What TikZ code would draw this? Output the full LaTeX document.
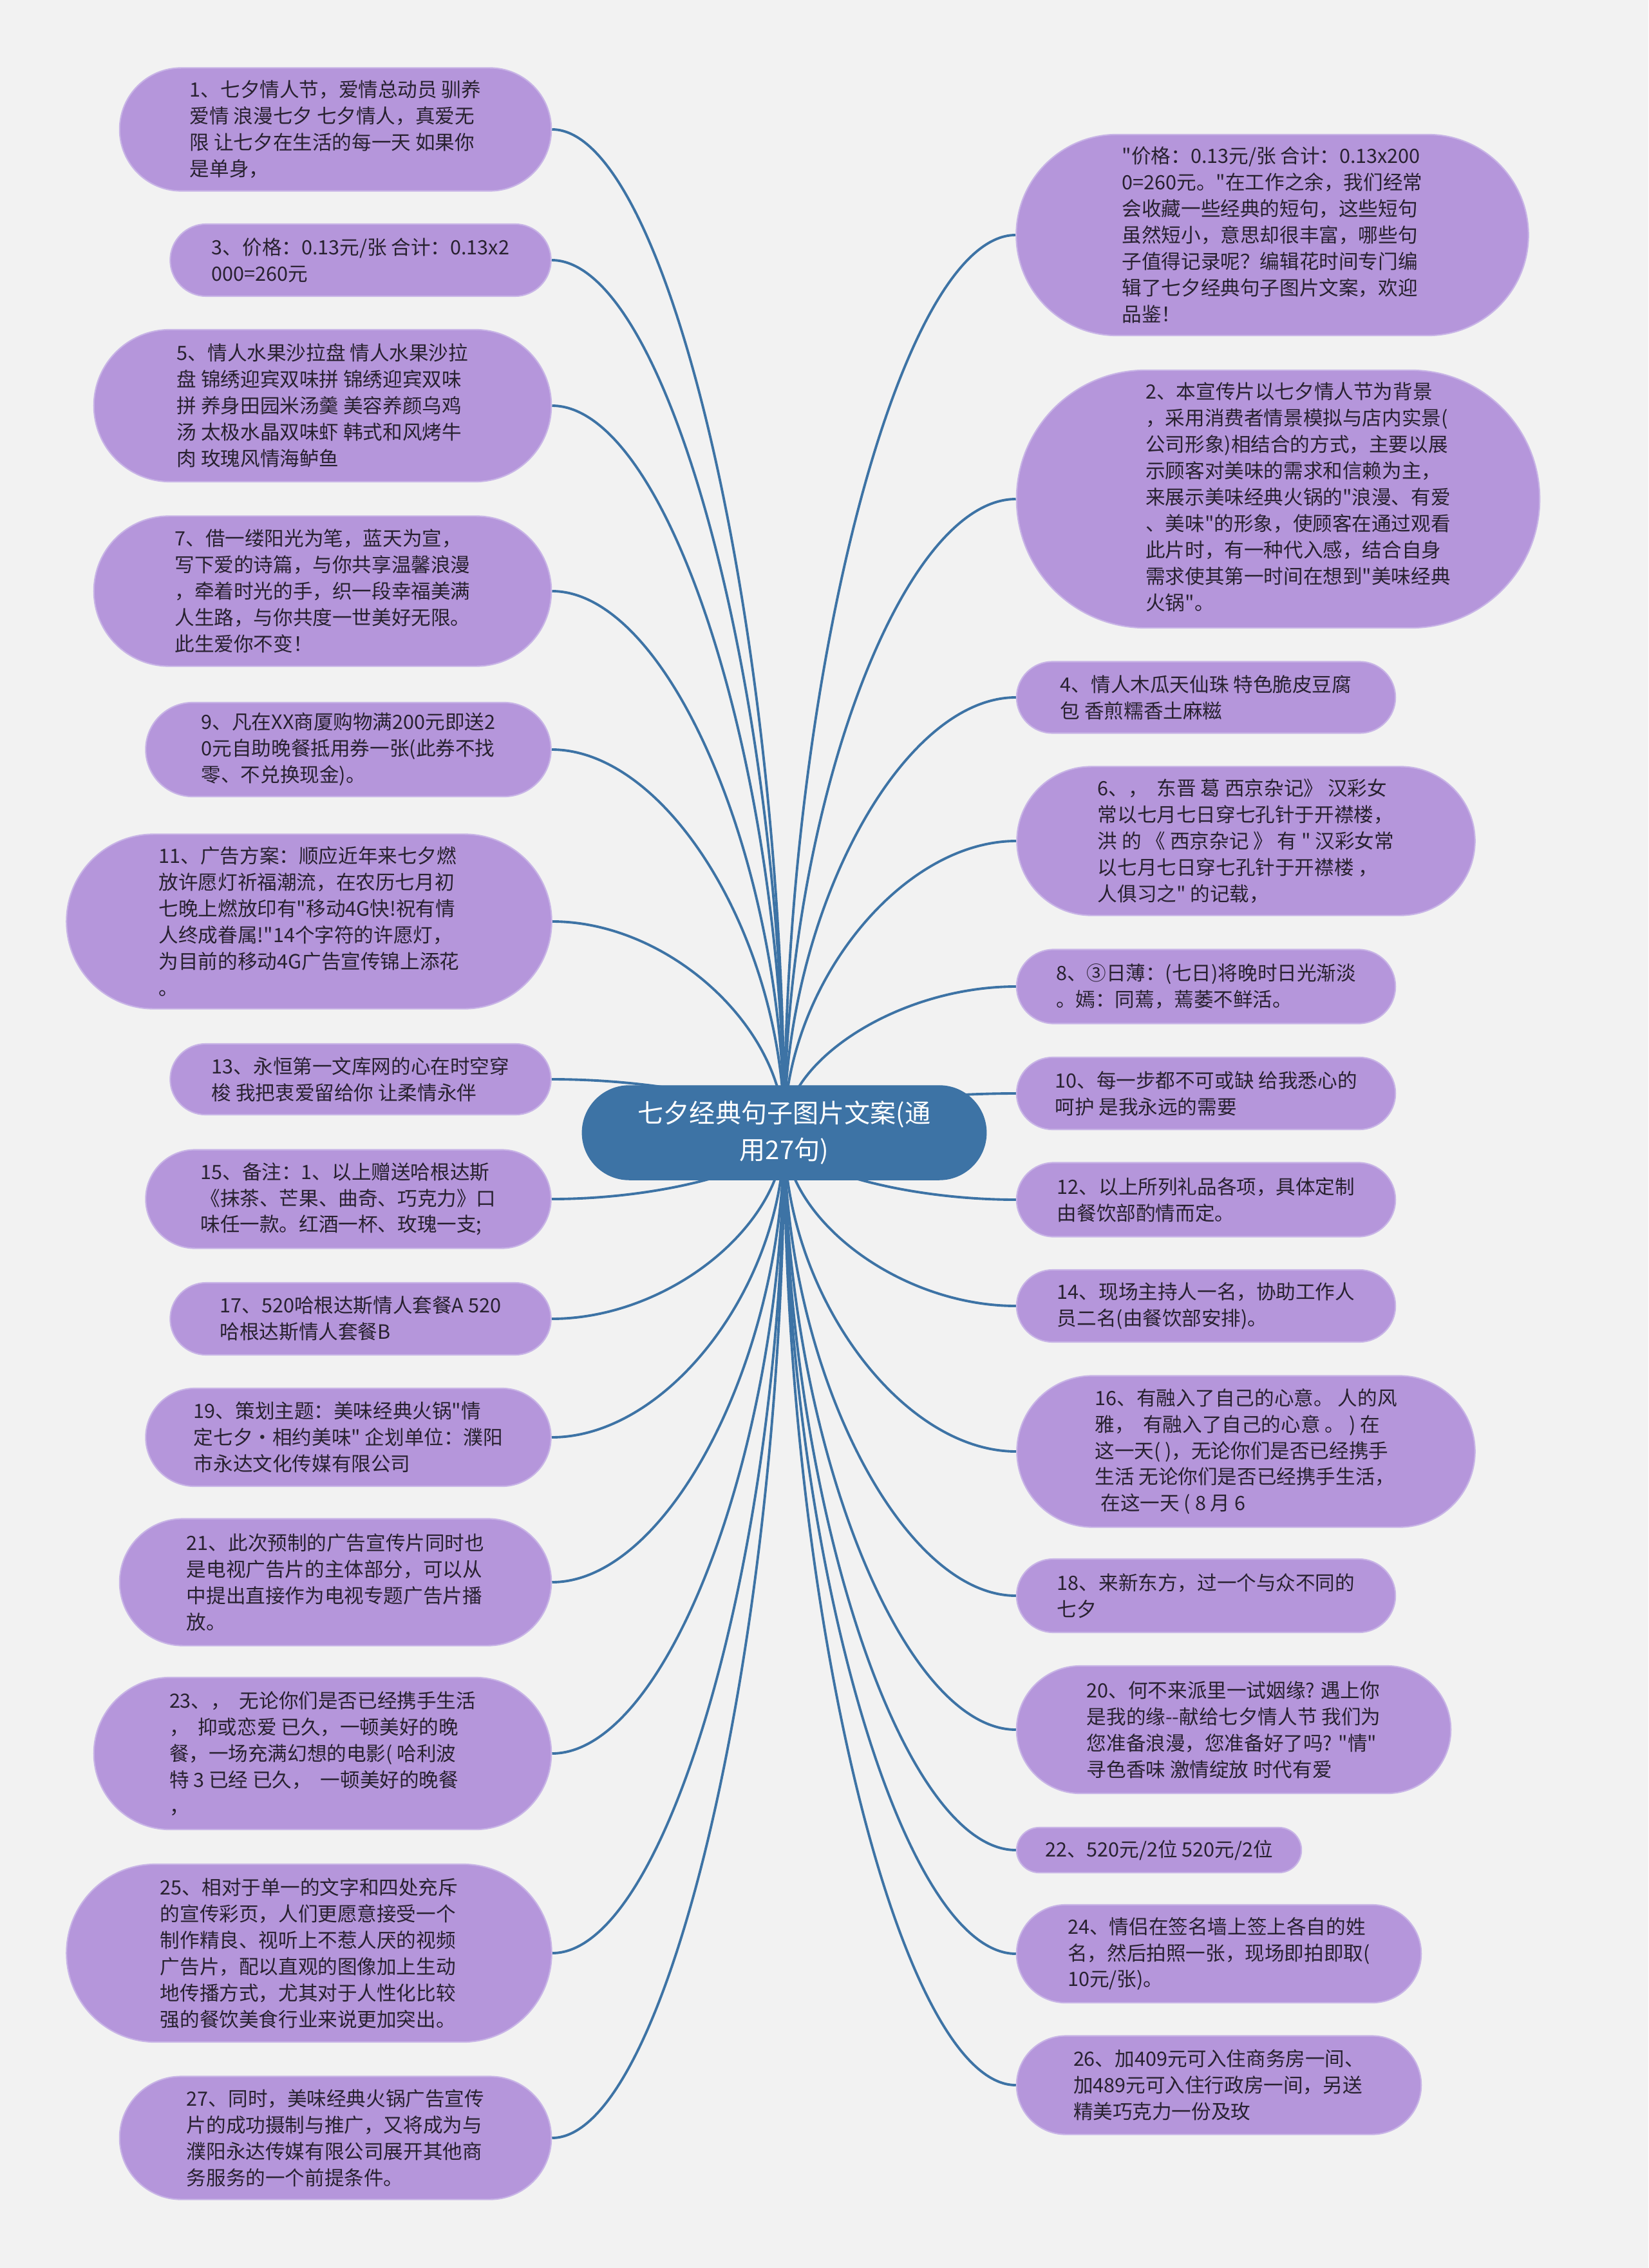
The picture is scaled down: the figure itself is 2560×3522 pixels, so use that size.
\documentclass[tikz,border=0pt]{standalone}
\usepackage{fontspec}
\newfontfamily\cjk{Noto Sans CJK SC}
\usetikzlibrary{calc}
\definecolor{bgc}{RGB}{242,242,242}
\definecolor{leaffill}{RGB}{181,150,219}
\definecolor{leafedge}{RGB}{200,180,230}
\definecolor{rootblue}{RGB}{61,115,165}
\definecolor{linkblue}{RGB}{61,115,165}
\definecolor{txt}{RGB}{40,33,48}
\pgfdeclarelayer{bg}
\pgfdeclarelayer{paper}
\pgfsetlayers{paper,bg,main}
\tikzset{
  leaf/.style 2 args={rectangle, fill=leaffill, draw=leafedge, line width=0.6pt,
    minimum width=#1cm, minimum height=#2cm, rounded corners={#2*0.5cm},
    inner sep=0pt, align=left, text=txt, font=\cjk\fontsize{8.7}{11.65}\selectfont},
  rootnode/.style={rectangle, fill=rootblue, draw=rootblue, minimum width=6.27cm,
    minimum height=1.46cm, rounded corners=0.73cm, inner sep=0pt, align=center,
    text=white, font=\cjk\fontsize{11.4}{16}\selectfont},
  link/.style={draw=linkblue, line width=1.1pt}
}
\begin{document}
\begin{tikzpicture}[x=0.01cm,y=-0.01cm]
\begin{pgfonlayer}{paper}
\fill[bgc] (0,0) rectangle (2560,3522);
\end{pgfonlayer}
\useasboundingbox (0,0) rectangle (2560,3522);

\node[rootnode] (root) at (1218,1759) {七夕经典句子图片文案(通\\用27句)};

% left column
\node[leaf={6.70}{1.91}] (n1) at (521,201) {1、七夕情人节，爱情总动员 驯养\\爱情 浪漫七夕 七夕情人，真爱无\\限 让七夕在生活的每一天 如果你\\是单身，};
\node[leaf={5.91}{1.12}] (n3) at (560,404) {3、价格：0.13元/张 合计：0.13x2\\000=260元};
\node[leaf={7.10}{2.36}] (n5) at (501,630) {5、情人水果沙拉盘 情人水果沙拉\\盘 锦绣迎宾双味拼 锦绣迎宾双味\\拼 养身田园米汤羹 美容养颜乌鸡\\汤 太极水晶双味虾 韩式和风烤牛\\肉 玫瑰风情海鲈鱼};
\node[leaf={7.10}{2.33}] (n7) at (501,918) {7、借一缕阳光为笔，蓝天为宣，\\写下爱的诗篇，与你共享温馨浪漫\\，牵着时光的手，织一段幸福美满\\人生路，与你共度一世美好无限。\\此生爱你不变！};
\node[leaf={6.29}{1.46}] (n9) at (541,1164) {9、凡在XX商厦购物满200元即送2\\0元自助晚餐抵用券一张(此券不找\\零、不兑换现金)。};
\node[leaf={7.53}{2.71}] (n11) at (480,1431) {11、广告方案：顺应近年来七夕燃\\放许愿灯祈福潮流，在农历七月初\\七晚上燃放印有"移动4G快!祝有情\\人终成眷属!"14个字符的许愿灯，\\为目前的移动4G广告宣传锦上添花\\。};
\node[leaf={5.91}{1.10}] (n13) at (560,1676) {13、永恒第一文库网的心在时空穿\\梭 我把衷爱留给你 让柔情永伴};
\node[leaf={6.29}{1.53}] (n15) at (541,1862) {15、备注：1、以上赠送哈根达斯\\《抹茶、芒果、曲奇、巧克力》口\\味任一款。红酒一杯、玫瑰一支;};
\node[leaf={5.91}{1.12}] (n17) at (560,2048) {17、520哈根达斯情人套餐A 520\\哈根达斯情人套餐B};
\node[leaf={6.29}{1.52}] (n19) at (541,2232) {19、策划主题：美味经典火锅"情\\定七夕·相约美味" 企划单位：濮阳\\市永达文化传媒有限公司};
\node[leaf={6.70}{1.97}] (n21) at (521,2457) {21、此次预制的广告宣传片同时也\\是电视广告片的主体部分，可以从\\中提出直接作为电视专题广告片播\\放。};
\node[leaf={7.10}{2.36}] (n23) at (501,2723) {23、，\ \ 无论你们是否已经携手生活\\，\ \ 抑或恋爱 已久，一顿美好的晚\\餐，一场充满幻想的电影( 哈利波\\特 3 已经 已久，\ \ 一顿美好的晚餐\\，};
\node[leaf={7.53}{2.76}] (n25) at (480,3033) {25、相对于单一的文字和四处充斥\\的宣传彩页，人们更愿意接受一个\\制作精良、视听上不惹人厌的视频\\广告片，配以直观的图像加上生动\\地传播方式，尤其对于人性化比较\\强的餐饮美食行业来说更加突出。};
\node[leaf={6.70}{1.91}] (n27) at (521,3320) {27、同时，美味经典火锅广告宣传\\片的成功摄制与推广，又将成为与\\濮阳永达传媒有限公司展开其他商\\务服务的一个前提条件。};

% right column
\node[leaf={7.95}{3.12}] (nA) at (1976,365) {"价格：0.13元/张 合计：0.13x200\\0=260元。"在工作之余，我们经常\\会收藏一些经典的短句，这些短句\\虽然短小，意思却很丰富，哪些句\\子值得记录呢？编辑花时间专门编\\辑了七夕经典句子图片文案，欢迎\\品鉴！};
\node[leaf={8.12}{4.00}] (n2) at (1985,775) {\kern0.62cm\begin{tabular}{@{}l@{}}2、本宣传片以七夕情人节为背景\\，采用消费者情景模拟与店内实景(\\公司形象)相结合的方式，主要以展\\示顾客对美味的需求和信赖为主，\\来展示美味经典火锅的"浪漫、有爱\\、美味"的形象，使顾客在通过观看\\此片时，有一种代入感，结合自身\\需求使其第一时间在想到"美味经典\\火锅"。\end{tabular}};
\node[leaf={5.88}{1.11}] (n4) at (1873,1083) {4、情人木瓜天仙珠 特色脆皮豆腐\\包 香煎糯香土麻糍};
\node[leaf={7.11}{2.31}] (n6) at (1935,1306) {6、，\ \ 东晋 葛 西京杂记》 汉彩女\\常以七月七日穿七孔针于开襟楼，\\洪 的 《 西京杂记 》 有 " 汉彩女常\\以七月七日穿七孔针于开襟楼 ，\\人俱习之" 的记载，};
\node[leaf={5.88}{1.15}] (n8) at (1873,1532) {8、③日薄：(七日)将晚时日光渐淡\\。嫣：同蔫，蔫萎不鲜活。};
\node[leaf={5.88}{1.12}] (n10) at (1873,1698) {10、每一步都不可或缺 给我悉心的\\呵护 是我永远的需要};
\node[leaf={5.88}{1.15}] (n12) at (1873,1863) {12、以上所列礼品各项，具体定制\\由餐饮部酌情而定。};
\node[leaf={5.88}{1.12}] (n14) at (1873,2028) {14、现场主持人一名，协助工作人\\员二名(由餐饮部安排)。};
\node[leaf={7.11}{2.35}] (n16) at (1935,2254) {16、有融入了自己的心意。 人的风\\雅，\ \ 有融入了自己的心意 。 ) 在\\这一天( )，无论你们是否已经携手\\生活 无论你们是否已经携手生活，\\\hspace{0.3em}在这一天 ( 8 月 6};
\node[leaf={5.88}{1.14}] (n18) at (1873,2478) {18、来新东方，过一个与众不同的\\七夕};
\node[leaf={6.74}{1.98}] (n20) at (1916,2686) {20、何不来派里一试姻缘? 遇上你\\是我的缘-{}-献给七夕情人节 我们为\\您准备浪漫，您准备好了吗? "情"\\寻色香味 激情绽放 时代有爱};
\node[leaf={4.42}{0.70}] (n22) at (1800,2873) {22、520元/2位 520元/2位};
\node[leaf={6.28}{1.52}] (n24) at (1893,3034) {24、情侣在签名墙上签上各自的姓\\名，然后拍照一张，现场即拍即取(\\10元/张)。};
\node[leaf={6.28}{1.53}] (n26) at (1893,3238) {26、加409元可入住商务房一间、\\加489元可入住行政房一间，另送\\精美巧克力一份及玫};

\begin{pgfonlayer}{bg}
\foreach \n in {n1,n3,n5,n7,n9,n11,n13,n15,n17,n19,n21,n23,n25,n27}{
  \coordinate (k) at (root.center|-\n.east);
  \draw[link] (root.center) .. controls ($(root.center)!0.5!(k)$) and ($(\n.east)!0.5!(k)$) .. (\n.east);
}
\foreach \n in {nA,n2,n4,n6,n8,n10,n12,n14,n16,n18,n20,n22,n24,n26}{
  \coordinate (k) at (root.center|-\n.west);
  \draw[link] (root.center) .. controls ($(root.center)!0.5!(k)$) and ($(\n.west)!0.5!(k)$) .. (\n.west);
}
\end{pgfonlayer}
\end{tikzpicture}
\end{document}
